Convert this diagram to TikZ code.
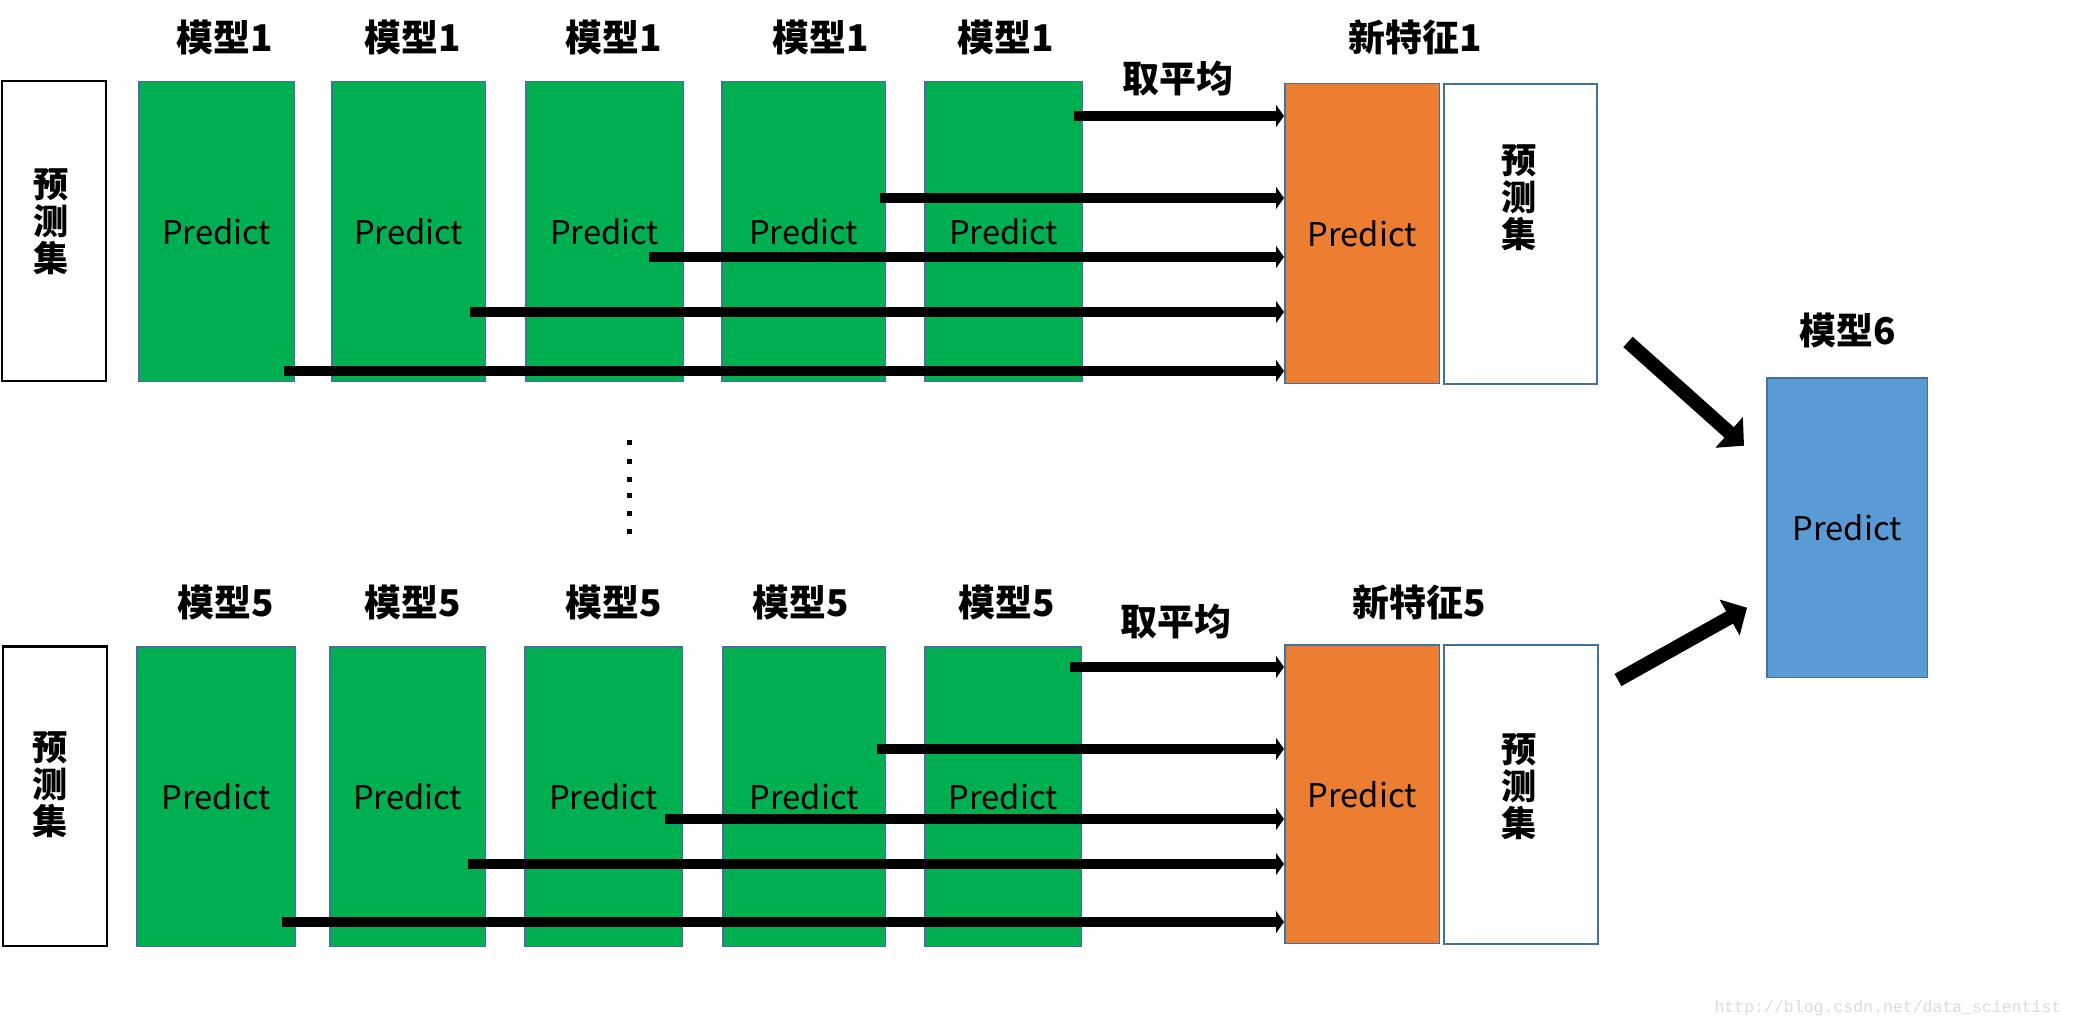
\documentclass[tikz,border=0pt]{standalone}
\usepackage{fontspec}
\setmainfont{Noto Sans CJK SC}
\setmonofont{Liberation Mono}
\usepackage{tikz}
\usetikzlibrary{arrows.meta,calc}

\definecolor{pgreen}{HTML}{00B050}
\definecolor{porange}{HTML}{ED7D31}
\definecolor{pblue}{HTML}{5B9BD5}
\definecolor{pline}{HTML}{41719C}

\tikzset{
  mbox/.style={anchor=north west,inner sep=0pt,minimum height=6cm,draw=pline,line width=0.03cm,font=\fontsize{18.6}{22}\selectfont},
  gbox/.style={mbox,fill=pgreen},
  obox/.style={mbox,fill=porange},
  wbox/.style={mbox,fill=white,line width=0.04cm},
  setbox/.style={anchor=north west,inner sep=0pt,draw=black,line width=0.05cm,minimum width=2.08cm,minimum height=6cm},
  mlabel/.style={font=\fontsize{21}{22}\selectfont\bfseries},
  vtext/.style={align=center,font=\fontsize{20}{21}\selectfont\bfseries},
  avgarrow/.style={line width=0.2cm,-{Triangle[length=0.16cm,width=0.44cm]}},
  bigarrow/.style={line width=0.28cm,-{Triangle[length=0.4cm,width=0.8cm]}},
}

\begin{document}
\begin{tikzpicture}[x=0.02cm,y=-0.02cm]
\useasboundingbox (0,0) rectangle (2074,1024);
% upper row: model 1
\node[setbox] (s1) at (1,80) {};
\node[vtext] (t1) at (51,222) {预\\测\\集};
\node[gbox,minimum width=3.12cm] (g11) at (138,81) {Predict};
\node[gbox,minimum width=3.08cm] (g12) at (331,81) {Predict};
\node[gbox,minimum width=3.16cm] (g13) at (525,81) {Predict};
\node[gbox,minimum width=3.28cm] (g14) at (721,81) {Predict};
\node[gbox,minimum width=3.16cm] (g15) at (924,81) {Predict};
\node[mlabel] (l11) at (225,37) {模型1};
\node[mlabel] (l12) at (413,37) {模型1};
\node[mlabel] (l13) at (614,37) {模型1};
\node[mlabel] (l14) at (821,37) {模型1};
\node[mlabel] (l15) at (1006,37) {模型1};
\node[obox,minimum width=3.10cm] (o1) at (1284,83) {Predict};
\node[wbox,minimum width=3.06cm] (w1) at (1443,83) {};
\node[vtext] (r1) at (1519,198) {预\\测\\集};
\node[mlabel] (f1) at (1415,37) {新特征1};
\node[mlabel] (m1) at (1178,79) {取平均};
\coordinate (a15) at ($(g15.north east)+(-9,35)$);
\coordinate (a14) at ($(g14.north east)+(-6,117)$);
\coordinate (a13) at ($(g13.north east)+(-35,176)$);
\coordinate (a12) at ($(g12.north east)+(-16,231)$);
\coordinate (a11) at ($(g11.north east)+(-11,290)$);
\draw[avgarrow] (a15) -- (a15 -| o1.west);
\draw[avgarrow] (a14) -- (a14 -| o1.west);
\draw[avgarrow] (a13) -- (a13 -| o1.west);
\draw[avgarrow] (a12) -- (a12 -| o1.west);
\draw[avgarrow] (a11) -- (a11 -| o1.west);
% dots between the rows
\fill (627,440) rectangle +(5,5);
\fill (627,459) rectangle +(5,5);
\fill (627,477) rectangle +(5,5);
\fill (627,493) rectangle +(5,5);
\fill (627,511) rectangle +(5,5);
\fill (627,529) rectangle +(5,5);
% lower row: model 5
\node[setbox] (s5) at (2,645) {};
\node[vtext] (t5) at (50,785) {预\\测\\集};
\node[gbox,minimum width=3.18cm] (g51) at (136,646) {Predict};
\node[gbox,minimum width=3.12cm] (g52) at (329,646) {Predict};
\node[gbox,minimum width=3.16cm] (g53) at (524,646) {Predict};
\node[gbox,minimum width=3.26cm] (g54) at (722,646) {Predict};
\node[gbox,minimum width=3.14cm] (g55) at (924,646) {Predict};
\node[mlabel] (l51) at (226,602) {模型5};
\node[mlabel] (l52) at (413,602) {模型5};
\node[mlabel] (l53) at (614,602) {模型5};
\node[mlabel] (l54) at (801,602) {模型5};
\node[mlabel] (l55) at (1007,602) {模型5};
\node[obox,minimum width=3.10cm,minimum height=5.98cm] (o5) at (1284,644) {Predict};
\node[wbox,minimum width=3.08cm,minimum height=5.98cm] (w5) at (1443,644) {};
\node[vtext] (r5) at (1519,787) {预\\测\\集};
\node[mlabel] (f5) at (1419,602) {新特征5};
\node[mlabel] (m5) at (1176,622) {取平均};
\coordinate (a55) at ($(g55.north east)+(-12,21)$);
\coordinate (a54) at ($(g54.north east)+(-9,103)$);
\coordinate (a53) at ($(g53.north east)+(-18,173)$);
\coordinate (a52) at ($(g52.north east)+(-18,218)$);
\coordinate (a51) at ($(g51.north east)+(-14,276)$);
\draw[avgarrow] (a55) -- (a55 -| o5.west);
\draw[avgarrow] (a54) -- (a54 -| o5.west);
\draw[avgarrow] (a53) -- (a53 -| o5.west);
\draw[avgarrow] (a52) -- (a52 -| o5.west);
\draw[avgarrow] (a51) -- (a51 -| o5.west);
% model 6
\node[mbox,fill=pblue,minimum width=3.22cm] (b6) at (1766,377) {Predict};
\node[mlabel] (l6) at (1848,330) {模型6};
\draw[bigarrow] ($(w1.south east)+(30,-43)$) -- ($(b6.west)+(-22,-82)$);
\draw[bigarrow] ($(w5.north east)+(19,36)$) -- ($(b6.west)+(-19,80)$);
\node[font=\fontsize{9.4}{10}\selectfont\ttfamily,text=black!14] (wm) at (1888,1008) {http://blog.csdn.net/data\_scientist};
\end{tikzpicture}
\end{document}
